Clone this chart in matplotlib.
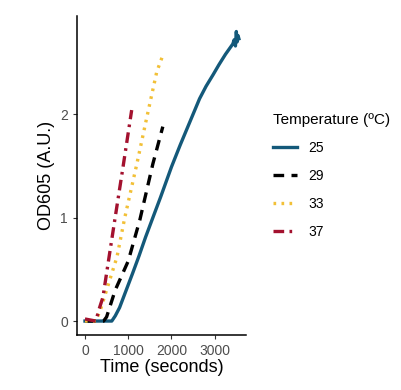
import matplotlib

matplotlib.use("Agg")
from matplotlib import pyplot as plt

# growth curves
t25 = [0, 300, 620, 700, 800, 900, 1000, 1100, 1250, 1400, 1570, 1750, 2000, 2200, 2350,
       2500, 2650, 2800, 2960, 3100, 3250, 3420, 3450, 3480, 3500, 3520, 3540, 3560]
od25 = [0, 0, 0, 0.05, 0.13, 0.24, 0.35, 0.46, 0.63, 0.81, 1.0, 1.2, 1.49, 1.70, 1.85,
        2.00, 2.15, 2.27, 2.38, 2.48, 2.58, 2.68, 2.72, 2.66, 2.80, 2.70, 2.76, 2.73]

t29 = [0, 430, 500, 577, 700, 850, 1000, 1270, 1570, 1800]
od29 = [0, 0, 0.04, 0.14, 0.30, 0.44, 0.58, 0.98, 1.52, 1.88]

t33 = [0, 250, 350, 500, 740, 920, 1200, 1430, 1660, 1800]
od33 = [0, 0, 0.10, 0.30, 0.62, 1.0, 1.52, 1.97, 2.41, 2.57]

t37 = [0, 250, 330, 415, 550, 690, 880, 1080]
od37 = [0.02, 0, 0.12, 0.23, 0.60, 0.98, 1.49, 2.04]

labels = ["25", "29", "33", "37"]
colors = ["#14597a", "#000000", "#f2c037", "#a3112e"]
styles = ["-", (0, (3.2, 2.2)), (0, (0.8, 1.6)), (0, (3.2, 1.6, 0.8, 1.6))]

plt.rcParams["font.family"] = ["Liberation Sans", "DejaVu Sans"]

fig = plt.figure(figsize=(4.02, 3.90), dpi=100)
ax = fig.add_axes([0.1915, 0.141, 0.42, 0.818])

series = [(t25, od25), (t29, od29), (t33, od33), (t37, od37)]
for (t, od), lab, col, ls in zip(series, labels, colors, styles):
    ax.plot(t, od, color=col, linestyle=ls, linewidth=2.4, label=lab,
            dash_capstyle="butt", solid_joinstyle="round")

ax.set_xlim(-185, 3720)
ax.set_ylim(-0.135, 2.95)
ax.set_xticks([0, 1000, 2000, 3000])
ax.set_yticks([0, 1, 2])
ax.tick_params(colors="#333333", labelcolor="#4d4d4d", labelsize=10, length=3)
for side in ["top", "right"]:
    ax.spines[side].set_visible(False)
for side in ["left", "bottom"]:
    ax.spines[side].set_linewidth(1.1)
ax.set_xlabel("Time (seconds)", fontsize=13, labelpad=1)
ax.set_ylabel("OD605 (A.U.)", fontsize=13, labelpad=4)

leg = fig.legend(*ax.get_legend_handles_labels(), title="Temperature (ºC)",
                 loc="upper left", bbox_to_anchor=(273 / 402, 1 - 113 / 390),
                 frameon=False, fontsize=10, title_fontsize=11, handlelength=1.7,
                 handletextpad=0.85, labelspacing=1.0, borderpad=0, borderaxespad=0)
leg._legend_box.align = "left"

fig.savefig("out.png", dpi=100)
